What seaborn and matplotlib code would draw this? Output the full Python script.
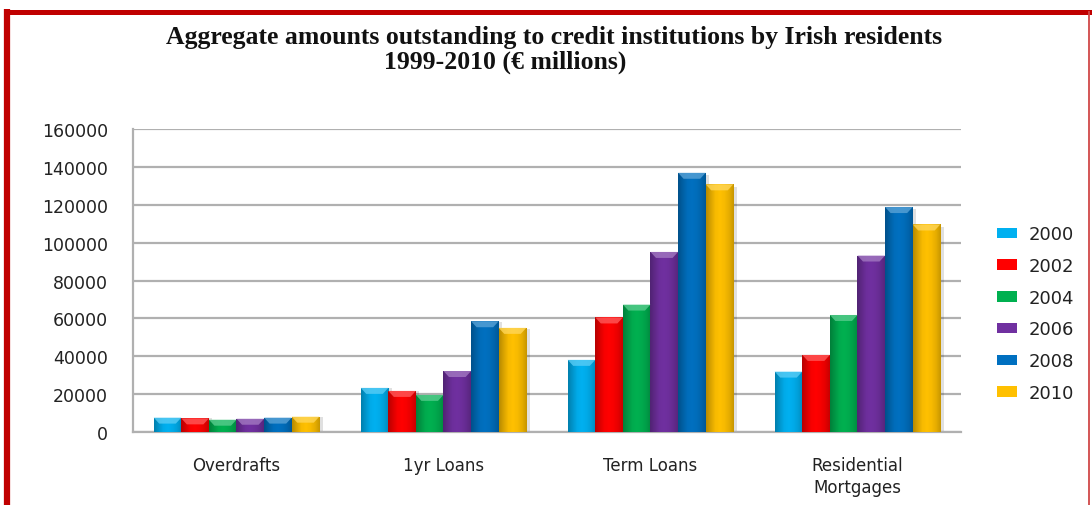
import numpy as np
import pandas as pd
import matplotlib
matplotlib.use("Agg")
import matplotlib.pyplot as plt
from matplotlib.lines import Line2D
from matplotlib.patches import Patch, Rectangle, Polygon
from matplotlib.colors import to_rgb
import seaborn as sns

categories = ["Overdrafts", "1yr Loans", "Term Loans", "Residential\nMortgages"]
years = ["2000", "2002", "2004", "2006", "2008", "2010"]
overdrafts = [7600, 7200, 6500, 7000, 7600, 8100]
one_year_loans = [23300, 21700, 19600, 32200, 58500, 55000]
term_loans = [38100, 60500, 67300, 95100, 136900, 130800]
residential_mortgages = [31900, 40700, 61800, 93200, 118800, 109600]
colors = ["#00B0F0", "#FF0000", "#00B050", "#7030A0", "#0070C0", "#FFC000"]
y_ticks = [0, 20000, 40000, 60000, 80000, 100000, 120000, 140000, 160000]

rows = []
for cat, vals in zip(categories, [overdrafts, one_year_loans, term_loans, residential_mortgages]):
    for yr, v in zip(years, vals):
        rows.append({"category": cat, "year": yr, "value": v})
df = pd.DataFrame(rows)

sns.set_theme(style="white")
plt.rcParams["font.family"] = ["DejaVu Sans"]

fig = plt.figure(figsize=(10.92, 5.06), dpi=100)
ax = fig.add_axes([0.1218, 0.1443, 0.7582, 0.5987])

sns.barplot(data=df, x="category", y="value", hue="year", order=categories,
            hue_order=years, palette=colors, width=0.8, gap=0.0,
            saturation=1.0, edgecolor="none", linewidth=0, ax=ax,
            legend=False, zorder=3)

ax.set_xlim(-0.5, 3.5)
ax.set_ylim(0, 160000)

# bevelled look: horizontal gradient, light top cap and a soft drop shadow
shade = np.array([0.72, 0.85, 0.97, 1.0, 0.97, 0.9, 0.78])
xs = np.linspace(0, 1, 64)
prof = np.interp(xs, np.linspace(0, 1, len(shade)), shade)
cap_h = 160000 * 6 / 303
for bar in list(ax.patches):
    x0, w, h = bar.get_x(), bar.get_width(), bar.get_height()
    if h <= 0:
        continue
    rgb = np.array(to_rgb(bar.get_facecolor()))
    img = np.clip(rgb[None, None, :] * prof[None, :, None], 0, 1)
    im = ax.imshow(img, extent=[x0, x0 + w, 0, h], aspect="auto",
                   zorder=4, interpolation="bilinear")
    im.set_clip_path(bar)
    light = np.clip(rgb + (1 - rgb) * 0.35, 0, 1)
    ch = min(cap_h, h * 0.5)
    cap = Polygon([(x0, h), (x0 + w, h), (x0 + w * 0.8, h - ch), (x0 + w * 0.2, h - ch)],
                  closed=True, facecolor=light, edgecolor="none", alpha=0.8, zorder=5)
    ax.add_patch(cap)
    sh = Rectangle((x0 + w * 0.12, 0), w, h * 0.99, facecolor="#000000",
                   alpha=0.12, edgecolor="none", zorder=2.5)
    ax.add_patch(sh)

ax.set_yticks(y_ticks)
ax.set_yticklabels([str(t) for t in y_ticks], fontsize=12.5, color="#222222")
ax.set_xticks(range(len(categories)))
ax.set_xticklabels(categories, fontsize=12, color="#222222", linespacing=1.35)
ax.tick_params(axis="y", length=0, pad=18)
ax.tick_params(axis="x", length=0, pad=17)
ax.set_xlabel("")
ax.set_ylabel("")
ax.grid(axis="y", color="#B0B0B0", linewidth=1.6, zorder=0)
ax.set_axisbelow(True)
for s in ["top", "right"]:
    ax.spines[s].set_visible(False)
for s in ["left", "bottom"]:
    ax.spines[s].set_color("#B0B0B0")
    ax.spines[s].set_linewidth(1.6)

handles = [Patch(facecolor=c, edgecolor="none") for c in colors]
leg = fig.legend(handles, years, loc="upper left", bbox_to_anchor=(0.906, 0.567),
                 frameon=False, fontsize=13, handlelength=1.15, handleheight=0.5,
                 labelspacing=0.76, handletextpad=0.6, borderaxespad=0)
for t in leg.get_texts():
    t.set_color("#222222")

fig.text(0.507, 0.926, "Aggregate amounts outstanding to credit institutions by Irish residents",
         ha="center", va="center", fontsize=18.5, fontweight="bold",
         family="Liberation Serif", color="#111111")
fig.text(0.463, 0.876, "1999-2010 (€ millions)", ha="center", va="center",
         fontsize=18.5, fontweight="bold", family="Liberation Serif", color="#111111")

# red frame
fig.add_artist(Line2D([4 / 1092, 1092 / 1092], [1 - 12.5 / 506, 1 - 12.5 / 506],
                      transform=fig.transFigure, color="#C00000", linewidth=3.6,
                      solid_capstyle="butt"))
fig.add_artist(Line2D([7 / 1092, 7 / 1092], [0, 1 - 10 / 506],
                      transform=fig.transFigure, color="#C00000", linewidth=4.5,
                      solid_capstyle="butt"))
fig.add_artist(Line2D([1088.5 / 1092, 1088.5 / 1092], [0, 1 - 12 / 506],
                      transform=fig.transFigure, color="#D04848", linewidth=1.3,
                      solid_capstyle="butt"))

fig.savefig("out.png", dpi=100)
